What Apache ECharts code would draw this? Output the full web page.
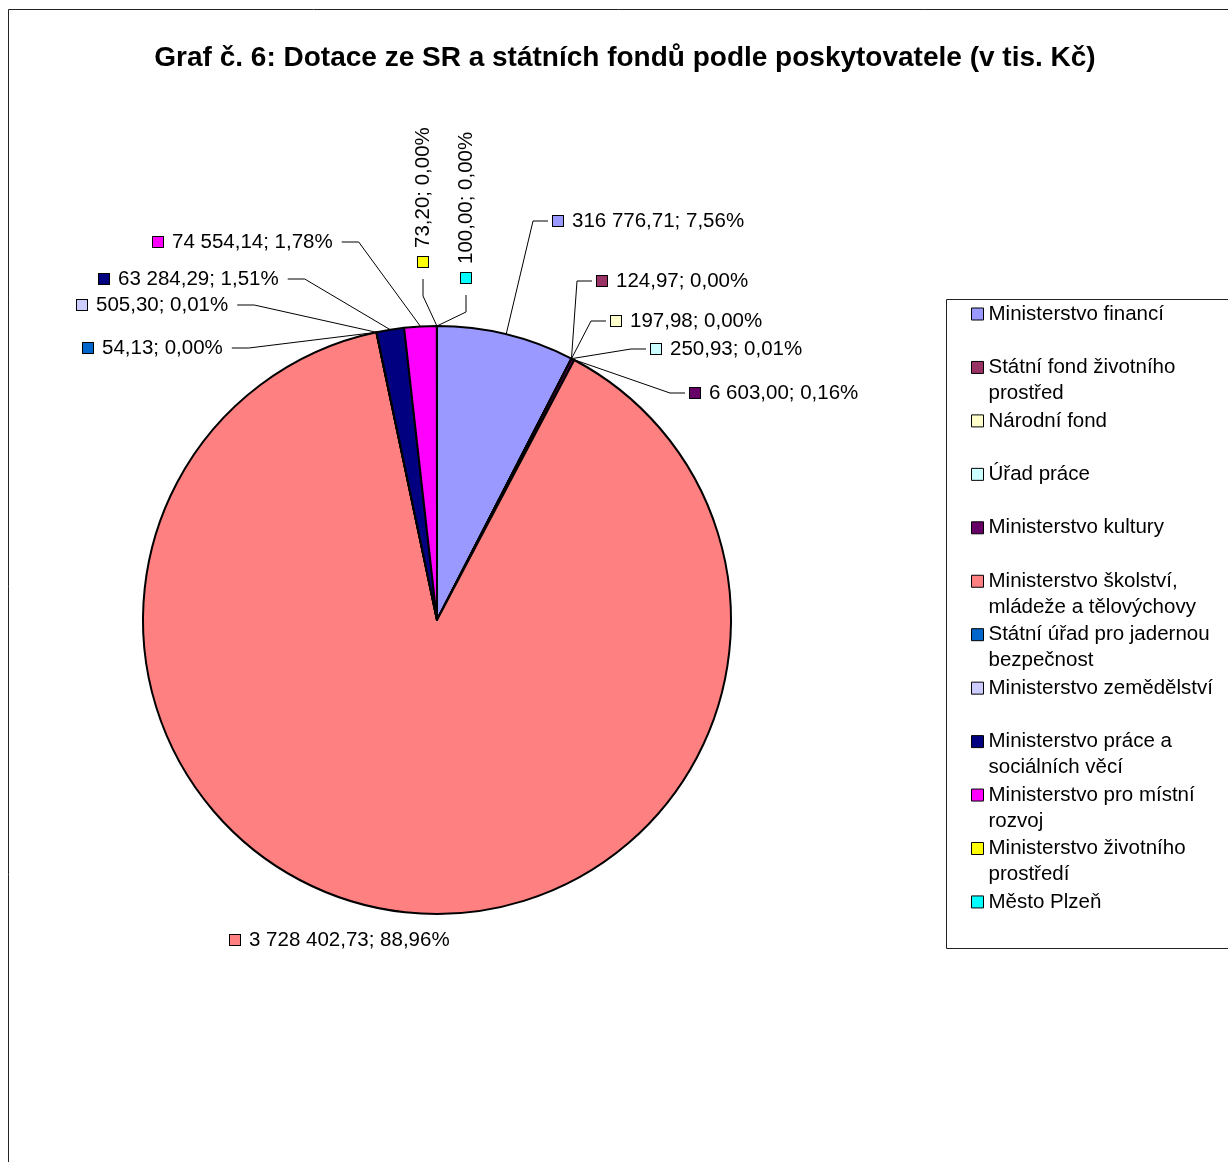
<!DOCTYPE html>
<html>
<head>
<meta charset="utf-8">
<title>Graf č. 6</title>
<script src="https://cdn.jsdelivr.net/npm/echarts@6/dist/echarts.min.js"></script>
<style>
  html, body { margin: 0; padding: 0; background: #fff; }
  #chart { width: 1228px; height: 1162px; }
</style>
</head>
<body>
<div id="chart"></div>
<script>
// poskytovatelé - pořadí výsečí od 12 hodin po směru hodinových ručiček
const categories = [
  "Ministerstvo financí",
  "Státní fond životního prostřed",
  "Národní fond",
  "Úřad práce",
  "Ministerstvo kultury",
  "Ministerstvo školství, mládeže a tělovýchovy",
  "Státní úřad pro jadernou bezpečnost",
  "Ministerstvo zemědělství",
  "Ministerstvo práce a sociálních věcí",
  "Ministerstvo pro místní rozvoj",
  "Ministerstvo životního prostředí",
  "Město Plzeň",
];
// texty legendy se zalomením řádků
const legendLabels = [
  "Ministerstvo financí",
  "Státní fond životního\nprostřed",
  "Národní fond",
  "Úřad práce",
  "Ministerstvo kultury",
  "Ministerstvo školství,\nmládeže a tělovýchovy",
  "Státní úřad pro jadernou\nbezpečnost",
  "Ministerstvo zemědělství",
  "Ministerstvo práce a\nsociálních věcí",
  "Ministerstvo pro místní\nrozvoj",
  "Ministerstvo životního\nprostředí",
  "Město Plzeň",
];
// dotace v tis. Kč
const values = [
  316776.71, 124.97, 197.98, 250.93, 6603.0, 3728402.73,
  54.13, 505.3, 63284.29, 74554.14, 73.2, 100.0,
];

// barvy výsečí
const colors = [
  "#9999FF", "#993366", "#FFFFCC", "#CCFFFF", "#660066", "#FF8080",
  "#0066CC", "#CCCCFF", "#000080", "#FF00FF", "#FFFF00", "#00FFFF",
];
// umístění popisků: [x, y, strana] - r = vpravo, l = vlevo, u = svisle, n = bez čáry
const labelPos = [
  [553, 221, "r"], [597, 281, "r"], [611, 321, "r"], [651, 349, "r"],
  [690, 393, "r"], [230, 940, "n"], [83, 348, "l"], [77, 305, "l"],
  [99, 279, "l"], [153, 242, "l"], [423, 267, "u"], [466, 283, "u"],
];

const total = values.reduce((a, b) => a + b, 0);

function fmtNum(v) {
  const parts = v.toFixed(2).split(".");
  return parts[0].replace(/\B(?=(\d{3})+(?!\d))/g, " ") + "," + parts[1];
}

// klíče legendy v popiscích
const rich = { g: { width: 9 } };
colors.forEach((c, i) => {
  rich["k" + i] = {
    width: 10,
    height: 10,
    backgroundColor: c,
    borderColor: "#000",
    borderWidth: 1,
  };
});

const seriesData = categories.map((name, i) => {
  const item = { name: name, value: values[i] };
  if (labelPos[i][2] === "n") {
    item.labelLine = { show: false };
  }
  return item;
});

let myChart = echarts.init(document.getElementById("chart"));
myChart.setOption({
  animation: false,
  color: colors,
  textStyle: { fontFamily: "Liberation Sans, Arial, sans-serif" },
  title: {
    text: "Graf č. 6: Dotace ze SR a státních fondů podle poskytovatele (v tis. Kč)",
    left: 625,
    top: 44,
    padding: 0,
    textAlign: "center",
    textStyle: {
      fontSize: 28,
      fontWeight: "bold",
      color: "#000",
      fontFamily: "Liberation Sans, Arial, sans-serif",
    },
  },
  graphic: [
    {
      // rámeček celého grafu
      type: "rect",
      z: -10,
      shape: { x: 8.5, y: 9.5, width: 1400, height: 1400 },
      style: { fill: "none", stroke: "#222", lineWidth: 1 },
    },
    {
      // rámeček legendy
      type: "rect",
      z: -10,
      shape: { x: 946.5, y: 299.5, width: 400, height: 649 },
      style: { fill: "#fff", stroke: "#222", lineWidth: 1 },
    },
  ],
  legend: {
    orient: "vertical",
    left: 971,
    top: 275,
    padding: 0,
    itemGap: -24.55,
    itemWidth: 12,
    itemHeight: 12,
    icon: "rect",
    selectedMode: false,
    itemStyle: { borderColor: "#000", borderWidth: 1 },
    textStyle: {
      fontSize: 20.5,
      lineHeight: 26,
      color: "#000",
      fontFamily: "Liberation Sans, Arial, sans-serif",
    },
    // tři řádky u každé položky, první řádek textu je vždy u značky
    formatter: function (name) {
      const t = legendLabels[categories.indexOf(name)];
      return t.indexOf("\n") >= 0 ? "\n" + t : "\n" + t + "\n";
    },
    data: categories,
  },
  series: [
    {
      type: "pie",
      center: [437, 620],
      radius: 294,
      startAngle: 90,
      clockwise: true,
      avoidLabelOverlap: false,
      itemStyle: { borderColor: "#000", borderWidth: 2 },
      emphasis: { disabled: true },
      label: {
        show: true,
        color: "#000",
        fontSize: 20.5,
        overflow: "none",
        fontFamily: "Liberation Sans, Arial, sans-serif",
        formatter: function (params) {
          const pct = ((params.value / total) * 100).toFixed(2).replace(".", ",");
          return "{k" + params.dataIndex + "|}{g|}" + fmtNum(params.value) + "; " + pct + "%";
        },
        rich: rich,
      },
      labelLine: {
        show: true,
        lineStyle: { color: "#000", width: 1 },
      },
      labelLayout: function (params) {
        const p = labelPos[params.dataIndex];
        const x = p[0];
        const y = p[1];
        const start = params.labelLinePoints ? params.labelLinePoints[0] : [x, y];
        if (p[2] === "u") {
          return {
            x: x, y: y, align: "left", verticalAlign: "middle", rotate: 90,
            labelLinePoints: [start, [x, y + 29], [x, y + 12]],
          };
        }
        if (p[2] === "l") {
          const right = x + params.labelRect.width;
          return {
            x: x, y: y, align: "left", verticalAlign: "middle",
            labelLinePoints: [start, [right + 25, y], [right + 8, y]],
          };
        }
        if (p[2] === "r") {
          return {
            x: x, y: y, align: "left", verticalAlign: "middle",
            labelLinePoints: [start, [x - 20, y], [x - 5, y]],
          };
        }
        return { x: x, y: y, align: "left", verticalAlign: "middle" };
      },
      data: seriesData,
    },
  ],
});

window.addEventListener("resize", () => {
  myChart.resize();
});
</script>
</body>
</html>
